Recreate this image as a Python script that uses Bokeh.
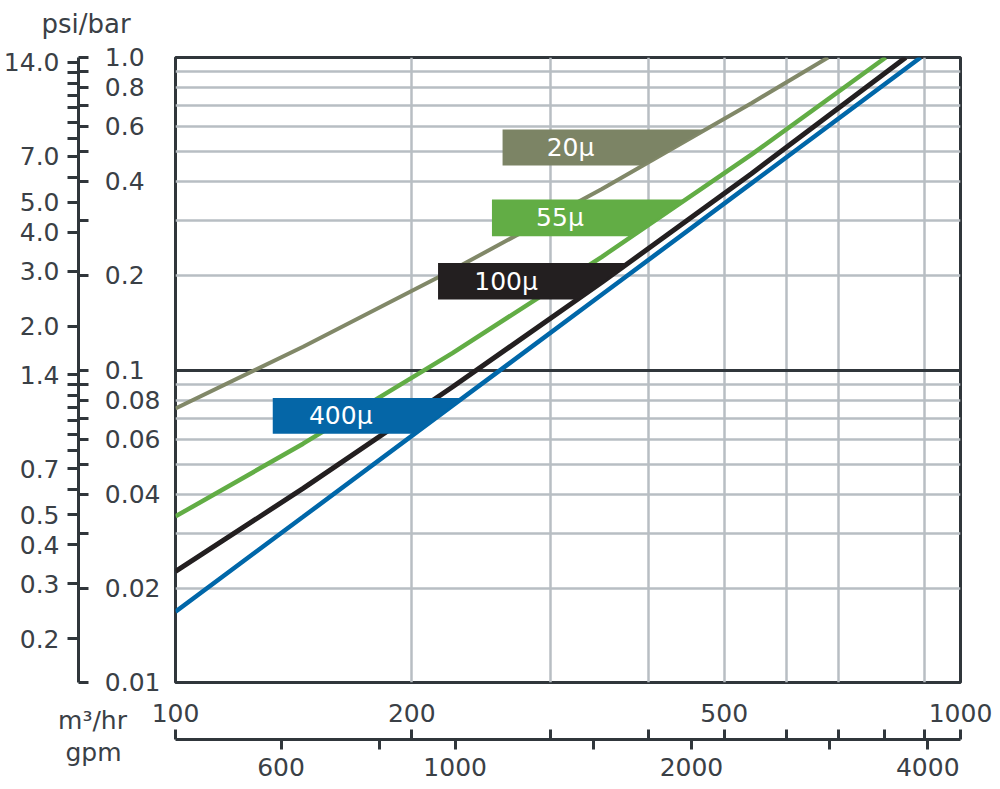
import numpy as np
from bokeh.plotting import figure
from bokeh.models import (LogAxis, FixedTicker, Range1d, LogScale, Grid, Label,
                          ColumnDataSource)
from bokeh.core.properties import value
from bokeh.embed import file_html
from bokeh.resources import INLINE

PSI_PER_BAR = 14.5038
GPM_PER_M3H = 4.40287

# Pressure drop (bar) against flow (m³/hr) for each screen grade
flow_20 = [100, 145.4, 225.3, 349.3, 541.5, 678.1]
dp_20 = [0.0753, 0.1187, 0.2089, 0.3797, 0.7141, 1.0]
flow_55 = [100, 145.4, 225.3, 349.3, 541.5, 803.0]
dp_55 = [0.0340, 0.0581, 0.1132, 0.2303, 0.4890, 1.0]
flow_100 = [100, 145.4, 225.3, 349.3, 541.5, 851.6]
dp_100 = [0.02266, 0.0418, 0.0882, 0.1909, 0.4248, 1.0]
flow_400 = [100, 145.4, 225.3, 349.3, 541.5, 889.6]
dp_400 = [0.01686, 0.0339, 0.0769, 0.1744, 0.3955, 1.0]

grades = ["20μ", "55μ", "100μ", "400μ"]
line_colors = ["#818868", "#62ad45", "#231f20", "#0067a9"]
box_colors = ["#7c8465", "#62ad45", "#231f20", "#0566a7"]
line_widths = [4, 4.5, 5, 4.5]
flows = [flow_20, flow_55, flow_100, flow_400]
dps = [dp_20, dp_55, dp_100, dp_400]

# Tag boxes: left edge (m³/hr) and top / bottom (bar); the right edge follows the curve
box_left = [261, 253, 216, 133]
box_top = [0.588, 0.351, 0.220, 0.0813]
box_bottom = [0.451, 0.268, 0.168, 0.0625]

# Axis ticks
bar_label_values = [1.0, 0.8, 0.6, 0.4, 0.2, 0.1, 0.08, 0.06, 0.04, 0.02, 0.01]
bar_label_text = ["1.0", "0.8", "0.6", "0.4", "0.2", "0.1", "0.08", "0.06", "0.04", "0.02", "0.01"]
bar_ticks = [1.0, 0.9, 0.8, 0.7, 0.6, 0.5, 0.4, 0.3, 0.2, 0.1,
             0.09, 0.08, 0.07, 0.06, 0.05, 0.04, 0.03, 0.02, 0.01]
psi_ticks = [14, 13, 12, 11, 10, 9, 8, 7, 6, 5, 4, 3, 2,
             1.4, 1.3, 1.2, 1.1, 1.0, 0.9, 0.8, 0.7, 0.6, 0.5, 0.4, 0.3, 0.2]
psi_labels = {14: "14.0", 7: "7.0", 5: "5.0", 4: "4.0", 3: "3.0", 2: "2.0", 1.4: "1.4",
              0.7: "0.7", 0.5: "0.5", 0.4: "0.4", 0.3: "0.3", 0.2: "0.2"}
m3h_label_values = [100, 200, 500, 1000]
m3h_ticks = [100, 200, 300, 400, 500, 600, 700, 800, 900, 1000]
gpm_ticks = [600, 800, 1000, 1500, 2000, 3000, 4000]
gpm_labels = {600: "600", 1000: "1000", 2000: "2000", 4000: "4000"}
grid_flow = [200, 300, 400, 500, 600, 700, 900]
grid_bar = [0.9, 0.8, 0.7, 0.6, 0.5, 0.4, 0.3, 0.2,
            0.09, 0.08, 0.07, 0.06, 0.05, 0.04, 0.03, 0.02]

DARK = "#30363b"
TEXT = "#3a4046"
GRID = "#b8bec3"
FONT = "DejaVu Sans"
FS = "25px"
W, H = 1000, 789

p = figure(width=W, height=H, x_axis_type="log", y_axis_type="log",
           x_range=Range1d(100, 1000), y_range=Range1d(0.01, 1.0),
           x_axis_location=None, y_axis_location=None,
           output_backend="svg", toolbar_location=None,
           min_border_left=172, min_border_right=40,
           min_border_top=57, min_border_bottom=107)
p.grid.visible = False
p.outline_line_color = DARK
p.outline_line_width = 3
p.background_fill_color = "white"
p.border_fill_color = "white"

p.extra_y_ranges = {"psi": Range1d(0.01 * PSI_PER_BAR, 1.0 * PSI_PER_BAR)}
p.extra_y_scales = {"psi": LogScale()}
p.extra_x_ranges = {"gpm": Range1d(100 * GPM_PER_M3H, 1000 * GPM_PER_M3H)}
p.extra_x_scales = {"gpm": LogScale()}

# Grid
p.add_layout(Grid(dimension=0, ticker=FixedTicker(ticks=grid_flow),
                  grid_line_color=GRID, grid_line_width=2.5))
p.add_layout(Grid(dimension=1, ticker=FixedTicker(ticks=grid_bar),
                  grid_line_color=GRID, grid_line_width=2.5))
p.add_layout(Grid(dimension=1, ticker=FixedTicker(ticks=[0.1]),
                  grid_line_color=DARK, grid_line_width=3))

label_style = dict(major_label_text_font=FONT, major_label_text_font_size=FS,
                   major_label_text_color=TEXT)
no_rule = dict(axis_line_color=None, major_tick_line_color=None,
               minor_tick_line_color=None, major_tick_in=0, major_tick_out=0,
               minor_tick_in=0, minor_tick_out=0)
caption_style = dict(x_units="screen", y_units="screen", text_font=FONT,
                     text_font_size=FS, text_color=TEXT, text_align="center",
                     text_baseline="alphabetic")

# bar labels (inner left)
bar_axis = LogAxis(ticker=FixedTicker(ticks=bar_label_values, minor_ticks=[]),
                   major_label_standoff=15,
                   major_label_overrides={v: t + "\u2007" * (4 - len(t))
                                          for v, t in zip(bar_label_values, bar_label_text)},
                   axis_label="\u2007", axis_label_text_font_size="2px",
                   axis_label_standoff=18, **no_rule, **label_style)
p.add_layout(bar_axis, "left")

# psi scale with bar ticks on its inner side
psi_axis = LogAxis(y_range_name="psi",
                   ticker=FixedTicker(ticks=psi_ticks,
                                      minor_ticks=[b * PSI_PER_BAR for b in bar_ticks]),
                   axis_line_color=DARK, axis_line_width=3,
                   major_tick_line_color=DARK, major_tick_line_width=3,
                   minor_tick_line_color=DARK, minor_tick_line_width=3,
                   major_tick_out=11, major_tick_in=0,
                   minor_tick_in=10, minor_tick_out=0,
                   major_label_standoff=8,
                   major_label_overrides={t: psi_labels.get(t, "") for t in psi_ticks},
                   **label_style)
p.add_layout(psi_axis, "left")

# Bottom stack: "m³/hr" caption, m³/hr values, shared rule, "gpm" caption, gpm values
p.add_layout(Label(x=-83, y=-9, text="m³/hr", **caption_style), "below")

m3h_axis = LogAxis(ticker=FixedTicker(ticks=m3h_label_values, minor_ticks=[]),
                   major_label_standoff=-8,
                   axis_label="\u2007", axis_label_text_font_size="2px",
                   axis_label_standoff=10, **no_rule, **label_style)
p.add_layout(m3h_axis, "below")

rule_axis = LogAxis(x_range_name="gpm",
                    ticker=FixedTicker(ticks=gpm_ticks,
                                       minor_ticks=[m * GPM_PER_M3H for m in m3h_ticks]),
                    axis_line_color=DARK, axis_line_width=3,
                    major_tick_line_color=DARK, major_tick_line_width=3,
                    minor_tick_line_color=DARK, minor_tick_line_width=3,
                    major_tick_out=10, major_tick_in=0,
                    minor_tick_in=10, minor_tick_out=0,
                    major_label_text_color=None)
p.add_layout(rule_axis, "below")

p.add_layout(Label(x=-82, y=26, text="gpm", **caption_style), "below")

gpm_axis = LogAxis(x_range_name="gpm",
                   ticker=FixedTicker(ticks=gpm_ticks, minor_ticks=[]),
                   major_label_standoff=-21,
                   major_label_overrides={t: gpm_labels.get(t, "") for t in gpm_ticks},
                   **no_rule, **label_style)
p.add_layout(gpm_axis, "below")

# Curves
for f, d, c, w in zip(flows, dps, line_colors, line_widths):
    p.line(f, d, line_color=c, line_width=w)


def flow_at(dp_value, f, d):
    return 10 ** np.interp(np.log10(dp_value), np.log10(d), np.log10(f))


xs, ys = [], []
for f, d, left, top, bot in zip(flows, dps, box_left, box_top, box_bottom):
    xs.append([left, left, flow_at(top, f, d), flow_at(bot, f, d)])
    ys.append([bot, top, top, bot])
p.patches(xs, ys, fill_color=box_colors, line_color=None)

tags = ColumnDataSource(dict(x=box_left,
                             y=[np.sqrt(t * b) for t, b in zip(box_top, box_bottom)],
                             text=grades))
p.text(x="x", y="y", text="text", source=tags, x_offset=68,
       text_align="center", text_baseline="middle", text_color="white",
       text_font=value(FONT), text_font_size=value(FS))

# psi/bar caption above the left scales
p.add_layout(Label(x=-134, y=34, x_units="screen", y_units="screen", text="psi/bar",
                   text_font=FONT, text_font_size="26px", text_color=TEXT,
                   text_align="left", text_baseline="alphabetic"), "above")

open("out.html", "w").write(file_html(p, INLINE))
